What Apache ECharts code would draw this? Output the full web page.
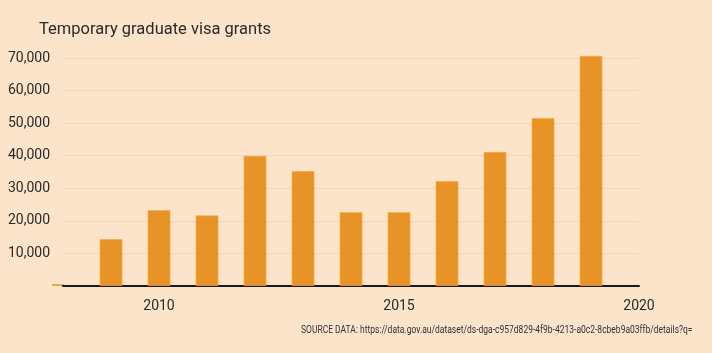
<!DOCTYPE html>
<html>
<head>
<meta charset="utf-8">
<style>
  html, body { margin: 0; padding: 0; background: #fce4cb; }
  #chart { width: 712px; height: 353px; }
</style>
<script src="https://cdn.jsdelivr.net/npm/echarts@6/dist/echarts.min.js"></script>
</head>
<body>
<div id="chart"></div>
<script>
// visa grants per year
var years = [2009, 2010, 2011, 2012, 2013, 2014, 2015, 2016, 2017, 2018, 2019]
var grants = [14400, 23300, 21700, 40000, 35300, 22700, 22700, 32200, 41200, 51600, 70700]
var xTicks = [2010, 2015, 2020]

var chart = echarts.init(document.getElementById('chart'))
chart.setOption({
  backgroundColor: '#fce4cb',
  animation: false,
  title: {
    text: 'Temporary graduate visa grants',
    left: 34,
    top: 16,
    textStyle: { fontFamily: 'Roboto', fontWeight: 'normal', fontSize: 16.5, color: '#2a2a2a' }
  },
  graphic: [{
    type: 'text',
    x: 301,
    y: 325,
    scaleX: 0.85,
    style: {
      text: 'SOURCE DATA: https://data.gov.au/dataset/ds-dga-c957d829-4f9b-4213-a0c2-8cbeb9a03ffb/details?q=',
      font: '10px Roboto, sans-serif',
      fill: '#333'
    }
  }, {
    type: 'line',
    shape: { x1: 52, y1: 285, x2: 64, y2: 285 },
    style: { stroke: '#eda451', lineWidth: 2 }
  }],
  grid: { left: 63, right: 73, top: 58, bottom: 67 },
  xAxis: {
    type: 'value',
    min: 2008,
    max: 2020,
    interval: 1,
    splitLine: { show: false },
    axisTick: { show: false },
    axisLine: { show: true, lineStyle: { color: '#1a1a1a', width: 2 } },
    axisLabel: {
      margin: 13,
      fontFamily: 'Roboto',
      fontSize: 14,
      color: '#2a2a2a',
      formatter: function(v) { return xTicks.indexOf(v) >= 0 ? String(v) : '' }
    }
  },
  yAxis: {
    type: 'value',
    min: 0,
    max: 70000,
    interval: 10000,
    axisLine: { show: false },
    axisTick: { show: false },
    splitLine: { lineStyle: { color: 'rgba(120,80,40,0.09)', width: 1 } },
    axisLabel: {
      margin: 13,
      fontFamily: 'Roboto',
      fontSize: 14,
      color: '#2a2a2a',
      formatter: function(v) { return v === 0 ? '' : v.toLocaleString('en-US') }
    }
  },
  series: [{
    type: 'bar',
    clip: false,
    barWidth: 23,
    data: years.map(function(y, i) { return [y, grants[i]] }),
    itemStyle: {
      color: 'rgba(229,135,15,0.88)',
      borderColor: 'rgba(244,170,80,0.7)',
      borderWidth: 1
    },
    z: 1
  }]
})
</script>
</body>
</html>
